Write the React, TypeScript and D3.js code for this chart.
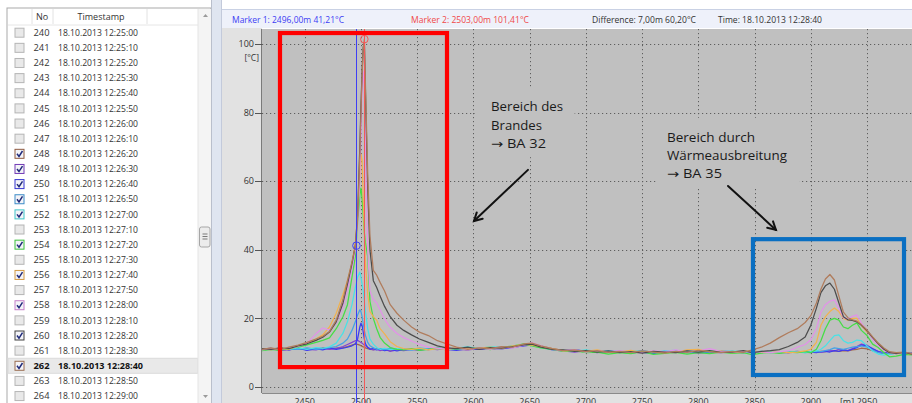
import React from 'react';
import * as d3 from 'd3';

// ---------- data ----------
const distances = [
  2412, 2420, 2428, 2436, 2444, 2452, 2460, 2466, 2472, 2478,
  2484, 2488, 2492, 2495, 2497, 2499, 2500, 2501, 2502, 2503,
  2504, 2506, 2508, 2511, 2514, 2517, 2521, 2526, 2532, 2538,
  2545, 2552, 2560, 2568, 2576, 2585, 2595, 2605, 2615, 2625,
  2635, 2645, 2652, 2660, 2670, 2680, 2690, 2700, 2710, 2720,
  2730, 2740, 2750, 2760, 2770, 2780, 2790, 2800, 2810, 2820,
  2830, 2840, 2848, 2856, 2864, 2872, 2880, 2888, 2895, 2900,
  2905, 2909, 2913, 2917, 2921, 2925, 2929, 2933, 2937, 2941,
  2945, 2950, 2955, 2960, 2965, 2970, 2976, 2983, 2990,
];

const s248 = [
  11.0, 11.1, 11.3, 10.9, 11.1, 11.2, 11.0, 11.4, 11.1, 11.3,
  11.5, 11.8, 12.2, 12.5, 12.4, 12.2, 12.0, 11.9, 11.7, 11.6,
  11.4, 11.2, 11.0, 10.9, 11.1, 10.8, 11.0, 10.7, 11.0, 10.8,
  11.1, 10.9, 11.2, 11.0, 11.2, 11.1, 10.9, 11.3, 11.1, 11.4,
  11.7, 12.3, 12.6, 11.9, 11.2, 10.7, 10.5, 10.6, 10.3, 10.2,
  10.4, 10.1, 10.2, 10.0, 10.3, 10.1, 10.4, 10.0, 10.3, 10.1,
  10.2, 10.1, 10.3, 10.2, 10.1, 10.3, 10.0, 10.2, 10.1, 10.3,
  10.2, 10.4, 10.3, 10.6, 10.5, 10.4, 10.6, 10.5, 10.8, 11.0,
  11.3, 11.1, 10.6, 10.1, 9.9, 9.8, 10.0, 9.8, 9.9,
];
const s249 = [
  11.0, 11.3, 10.6, 10.9, 11.2, 11.0, 10.8, 11.3, 11.0, 11.2,
  11.8, 12.4, 13.0, 13.5, 13.6, 13.2, 13.0, 12.8, 12.5, 12.2,
  12.0, 11.6, 11.2, 10.8, 11.0, 10.6, 11.0, 10.4, 10.8, 10.6,
  11.0, 10.7, 11.2, 10.9, 11.3, 11.0, 10.8, 11.2, 11.0, 11.3,
  11.5, 12.1, 12.4, 11.8, 10.8, 10.5, 10.2, 10.6, 10.0, 10.4,
  10.2, 9.9, 10.3, 10.0, 10.4, 10.1, 10.3, 9.9, 10.2, 10.0,
  10.2, 10.0, 10.3, 10.1, 10.3, 10.0, 10.2, 10.4, 10.2, 10.0,
  10.3, 10.1, 10.4, 10.6, 10.5, 11.0, 10.8, 10.6, 11.2, 11.8,
  12.5, 12.2, 11.0, 10.4, 10.0, 9.8, 10.0, 9.7, 9.9,
];
const s250 = [
  11.2, 10.9, 11.4, 10.8, 11.3, 10.7, 11.2, 10.8, 11.4, 11.0,
  11.3, 11.6, 12.0, 12.6, 14.0, 17.5, 18.6, 18.0, 16.0, 14.0,
  12.6, 11.5, 11.0, 11.3, 10.8, 11.2, 10.6, 11.0, 10.5, 11.0,
  10.8, 11.2, 10.9, 11.3, 11.0, 10.7, 11.2, 11.0, 11.4, 11.1,
  11.6, 12.0, 12.3, 11.6, 11.0, 10.6, 10.9, 10.4, 10.2, 10.6,
  10.0, 10.4, 10.1, 9.8, 10.3, 10.5, 10.0, 10.3, 10.0, 10.4,
  10.1, 10.3, 10.0, 10.2, 10.4, 10.1, 10.0, 10.3, 10.1, 10.2,
  10.0, 10.3, 10.4, 10.2, 10.6, 10.4, 10.8, 10.6, 11.0, 11.5,
  12.2, 12.0, 11.2, 10.3, 9.8, 10.0, 9.7, 10.1, 9.9,
];
const s251 = [
  10.9, 11.2, 10.8, 11.1, 11.0, 11.4, 11.0, 11.2, 11.5, 11.8,
  12.8, 14.0, 16.5, 19.0, 21.0, 22.5, 22.0, 20.5, 18.5, 16.5,
  15.0, 13.0, 12.0, 11.4, 11.0, 11.2, 10.9, 11.3, 11.0, 11.2,
  11.0, 11.3, 11.1, 11.0, 11.4, 11.0, 11.5, 11.2, 11.4, 11.6,
  11.8, 12.2, 12.4, 11.7, 11.1, 10.5, 10.8, 10.4, 10.6, 10.3,
  10.5, 10.2, 10.6, 10.1, 10.4, 10.2, 10.6, 10.3, 10.2, 10.5,
  10.3, 10.0, 10.2, 10.4, 10.0, 10.2, 10.1, 10.3, 10.0, 10.2,
  10.4, 10.3, 10.6, 10.9, 11.4, 11.2, 11.0, 11.3, 11.6, 11.8,
  12.0, 11.6, 10.8, 10.0, 9.8, 9.6, 9.9, 10.1, 9.7,
];
const s252 = [
  11.0, 10.8, 11.2, 11.0, 11.4, 11.0, 11.5, 11.3, 11.7, 12.8,
  15.7, 19.0, 24.0, 29.0, 32.0, 33.5, 32.0, 30.0, 28.0, 25.0,
  22.0, 17.0, 14.0, 12.5, 11.5, 11.0, 11.3, 10.9, 11.2, 11.0,
  10.8, 11.2, 11.0, 11.4, 10.9, 11.3, 11.7, 11.2, 11.8, 11.5,
  12.0, 12.5, 12.1, 11.5, 10.9, 10.7, 10.4, 10.8, 10.3, 10.6,
  10.2, 10.6, 10.3, 10.0, 10.5, 10.7, 10.2, 10.4, 10.6, 10.0,
  10.5, 10.2, 10.4, 10.0, 10.3, 10.1, 10.4, 10.2, 10.0, 10.3,
  10.5, 11.0, 12.0, 13.5, 15.0, 15.2, 13.5, 12.8, 13.0, 13.7,
  13.5, 12.0, 10.5, 9.6, 9.3, 9.6, 9.9, 10.0, 9.8,
];
const s254 = [
  10.6, 11.0, 10.7, 11.3, 11.6, 12.3, 13.0, 13.6, 14.3, 17.0,
  20.5, 24.0, 32.0, 38.0, 48.0, 56.0, 58.0, 55.0, 50.0, 45.0,
  42.0, 38.0, 25.0, 20.0, 17.0, 14.5, 12.8, 11.5, 11.0, 10.8,
  11.2, 10.7, 11.0, 11.4, 10.8, 11.2, 11.0, 11.5, 10.9, 11.6,
  11.9, 12.6, 12.0, 11.4, 11.0, 10.4, 10.6, 10.0, 10.2, 9.6,
  10.0, 9.7, 10.3, 9.5, 9.8, 10.1, 9.6, 10.0, 9.7, 10.2,
  9.8, 10.0, 9.4, 9.9, 10.1, 9.8, 10.2, 10.0, 10.3, 10.0,
  11.0, 13.5, 17.0, 19.5, 20.0, 19.5, 17.5, 17.0, 18.0, 18.7,
  16.5, 15.0, 12.5, 11.5, 10.0, 8.8, 9.0, 9.5, 9.4,
];
const s256 = [
  11.1, 10.8, 11.4, 11.0, 12.0, 12.8, 14.0, 15.2, 17.5, 21.5,
  27.0, 31.0, 36.0, 42.0, 50.0, 62.0, 68.0, 66.0, 55.0, 45.0,
  36.0, 27.0, 22.0, 20.5, 19.5, 17.0, 15.5, 13.2, 11.8, 11.2,
  11.0, 11.3, 10.8, 11.2, 11.0, 11.5, 11.1, 11.3, 11.6, 11.2,
  12.0, 12.4, 12.2, 11.8, 11.2, 10.5, 10.7, 10.4, 10.8, 10.2,
  10.3, 10.7, 10.1, 10.4, 10.0, 10.2, 10.8, 11.0, 10.3, 10.5,
  10.0, 10.3, 10.5, 10.2, 10.1, 10.4, 10.0, 10.2, 10.5, 11.0,
  13.0, 18.0, 20.5, 22.0, 23.0, 22.0, 20.0, 19.5, 20.0, 20.0,
  18.0, 16.0, 14.5, 12.5, 11.0, 10.0, 9.7, 9.9, 9.6,
];
const s258 = [
  10.8, 11.2, 11.0, 11.5, 11.8, 12.8, 15.5, 17.2, 16.6, 18.8,
  23.5, 28.5, 34.5, 40.0, 48.0, 62.0, 74.0, 86.0, 92.0, 88.0,
  68.0, 40.0, 28.0, 25.5, 24.5, 22.5, 19.8, 17.4, 15.6, 14.4,
  13.4, 12.4, 11.6, 11.3, 11.0, 11.3, 10.9, 11.4, 11.0, 11.6,
  11.4, 12.2, 12.9, 12.1, 11.0, 10.6, 10.9, 10.2, 10.5, 10.3,
  10.6, 10.2, 10.0, 10.5, 10.3, 10.8, 10.2, 10.5, 11.2, 10.4,
  10.2, 10.4, 10.1, 10.3, 10.0, 10.3, 10.5, 11.6, 12.4, 13.8,
  17.0, 21.8, 24.0, 25.0, 25.4, 23.0, 20.2, 19.8, 20.6, 21.0,
  18.6, 16.5, 14.0, 12.0, 10.8, 10.0, 9.8, 10.0, 9.7,
];
const s260 = [
  11.2, 11.0, 11.3, 11.2, 12.0, 12.6, 13.6, 14.5, 16.0, 19.0,
  24.5, 30.0, 36.0, 41.2, 50.0, 70.0, 82.0, 92.0, 99.0, 100.5,
  86.0, 58.0, 40.0, 31.0, 29.0, 26.5, 23.5, 20.5, 18.0, 16.5,
  15.2, 14.0, 13.0, 12.0, 11.4, 11.2, 11.6, 11.0, 11.5, 11.3,
  11.8, 12.3, 12.5, 11.6, 11.0, 10.8, 10.4, 10.6, 10.2, 10.5,
  10.1, 10.3, 9.9, 10.4, 10.2, 10.0, 10.5, 10.2, 10.6, 10.1,
  10.2, 10.6, 10.0, 10.4, 10.6, 10.9, 11.8, 13.0, 14.6, 18.0,
  23.0, 27.5, 29.5, 30.3, 28.5, 24.5, 20.5, 19.6, 19.4, 19.0,
  18.0, 16.4, 14.4, 12.6, 11.0, 10.0, 9.8, 10.1, 9.6,
];
const s262 = [
  11.0, 11.4, 10.9, 11.6, 12.2, 13.0, 14.0, 14.8, 16.2, 19.5,
  25.5, 31.0, 36.5, 41.0, 49.0, 68.0, 80.0, 91.0, 98.5, 101.4,
  88.0, 62.0, 44.0, 34.0, 32.6, 30.5, 28.0, 24.0, 21.5, 19.5,
  17.5, 16.0, 15.0, 13.5, 12.6, 11.6, 11.0, 11.4, 11.2, 11.8,
  11.6, 12.6, 12.8, 12.0, 11.2, 10.6, 10.8, 10.3, 10.6, 10.1,
  10.4, 10.0, 10.5, 10.2, 9.9, 10.4, 10.1, 10.7, 10.3, 10.0,
  10.4, 10.1, 10.8, 11.6, 12.8, 14.4, 15.8, 17.0, 18.8, 20.8,
  24.5, 28.5, 31.5, 32.8, 31.2, 26.5, 21.8, 20.2, 19.6, 19.2,
  18.2, 16.6, 14.6, 12.8, 11.4, 10.3, 10.0, 10.2, 9.8,
];

const seriesIds = [248, 249, 250, 251, 252, 254, 256, 258, 260, 262];
const seriesValues = [s248, s249, s250, s251, s252, s254, s256, s258, s260, s262];
const seriesColors = ['#a4684a', '#8444d2', '#3c3cf0', '#46a2e6', '#48e2e6', '#44de44', '#f2b24e', '#e292e8', '#4c4c4c', '#b07c5c'];

const rowNumbers = [240, 241, 242, 243, 244, 245, 246, 247, 248, 249, 250, 251, 252, 253, 254, 255, 256, 257, 258, 259, 260, 261, 262, 263, 264];
const rowTimes = [
  '18.10.2013 12:25:00', '18.10.2013 12:25:10', '18.10.2013 12:25:20', '18.10.2013 12:25:30',
  '18.10.2013 12:25:40', '18.10.2013 12:25:50', '18.10.2013 12:26:00', '18.10.2013 12:26:10',
  '18.10.2013 12:26:20', '18.10.2013 12:26:30', '18.10.2013 12:26:40', '18.10.2013 12:26:50',
  '18.10.2013 12:27:00', '18.10.2013 12:27:10', '18.10.2013 12:27:20', '18.10.2013 12:27:30',
  '18.10.2013 12:27:40', '18.10.2013 12:27:50', '18.10.2013 12:28:00', '18.10.2013 12:28:10',
  '18.10.2013 12:28:20', '18.10.2013 12:28:30', '18.10.2013 12:28:40', '18.10.2013 12:28:50',
  '18.10.2013 12:29:00',
];
const selectedRow = 262;

const xTicks = [2450, 2500, 2550, 2600, 2650, 2700, 2750, 2800, 2850, 2900, 2950];
const yTicks = [0, 20, 40, 60, 80, 100];

const marker1 = { x: 2496, y: 41.21, label: 'Marker 1: 2496,00m 41,21°C' };
const marker2 = { x: 2503, y: 101.41, label: 'Marker 2: 2503,00m 101,41°C' };
const diffLabel = 'Difference: 7,00m 60,20°C';
const timeLabel = 'Time: 18.10.2013 12:28:40';

const note1Lines = ['Bereich des', 'Brandes', '→ BA 32'];
const note1Widths = [72, 51, 55];
const note2Lines = ['Bereich durch', 'Wärmeausbreitung', '→ BA 35'];
const note2Widths = [88, 120, 55];

// ---------- component ----------
export default function App() {
  const x = d3.scaleLinear().domain([2412, 2990]).range([262, 912]);
  const y = d3.scaleLinear().domain([0, 100]).range([387, 44]);
  const plot = { l: 262, r: 912, t: 29, b: 393 };
  const font = "'Open Sans', 'Noto Sans', 'DejaVu Sans', sans-serif";

  const line = d3
    .line<number>()
    .x((_, i) => x(distances[i]))
    .y((d) => y(d));

  const rowY = (i: number) => 32.7 + 15.14 * i;

  const arrow = (x0: number, y0: number, x1: number, y1: number, key: string) => {
    const a = Math.atan2(y1 - y0, x1 - x0);
    const L = 9;
    const s = 0.5;
    const h1 = [x1 - L * Math.cos(a - s), y1 - L * Math.sin(a - s)];
    const h2 = [x1 - L * Math.cos(a + s), y1 - L * Math.sin(a + s)];
    return (
      <g key={key} stroke="#111" strokeWidth={2} fill="none" strokeLinecap="round">
        <line x1={x0} y1={y0} x2={x1} y2={y1} />
        <polyline points={`${h1[0]},${h1[1]} ${x1},${y1} ${h2[0]},${h2[1]}`} />
      </g>
    );
  };

  const redBox = { x0: 2428, x1: 2576.5, y0: 5.8, y1: 103.2 };
  const blueBox = { x0: 2848.6, x1: 2982.9, y0: 3.5, y1: 43.1 };
  const note1Box = { x0: 2601, x1: 2690, y0: 67, y1: 87.5 };
  const note2Box = { x0: 2763, x1: 2890, y0: 58.3, y1: 78.5 };

  return (
    <svg width={912} height={403} style={{ position: 'fixed', left: 0, top: 0 }} fontFamily={font}>
      <rect x={0} y={0} width={912} height={403} fill="#ffffff" />

      {/* ---------- left list panel ---------- */}
      <rect x={7} y={8} width={204} height={400} fill="#ffffff" stroke="#a9a9a9" />
      <line x1={8} y1={25} x2={198} y2={25} stroke="#e6e6e6" />
      {[32, 53, 147].map((cx) => (
        <line key={cx} x1={cx} y1={9} x2={cx} y2={24} stroke="#e2e2e2" />
      ))}
      <text x={42} y={19.5} fontSize={9} fill="#333" textAnchor="middle">No</text>
      <text x={101} y={19.5} fontSize={9} fill="#333" textAnchor="middle">Timestamp</text>

      {rowNumbers.map((n, i) => {
        const cy = rowY(i);
        const si = seriesIds.indexOf(n);
        const checked = si >= 0;
        const sel = n === selectedRow;
        const c = checked ? d3.color(seriesColors[si])!.darker(0.4).formatHex() : '#b5b5b5';
        return (
          <g key={n}>
            {sel && <rect x={8} y={cy - 7.5} width={190} height={15} fill="#e9e9e9" stroke="#dadada" />}
            <rect x={15} y={cy - 4.5} width={9} height={9} fill={checked ? '#f4f4f8' : '#e9e9e9'} stroke={c} strokeWidth={1} />
            {checked && (
              <path d={`M${17},${cy} L${19},${cy + 2.6} L${22.5},${cy - 2.8}`} stroke="#1f2a7a" strokeWidth={1.5} fill="none" />
            )}
            <text x={33.5} y={cy + 3.2} fontSize={9.3} fill={sel ? '#111' : '#333'} fontWeight={sel ? 700 : 400} textLength={16} lengthAdjust="spacingAndGlyphs">{n}</text>
            <text x={58} y={cy + 3.2} fontSize={9.3} fill={sel ? '#111' : '#333'} fontWeight={sel ? 700 : 400} textLength={sel ? 85 : 80} lengthAdjust="spacingAndGlyphs">{rowTimes[i]}</text>
          </g>
        );
      })}

      {/* scrollbar */}
      <rect x={198} y={9} width={13} height={394} fill="#f4f4f4" />
      <line x1={198} y1={9} x2={198} y2={403} stroke="#e4e4e4" />
      <path d="M203,17 L205.5,14 L208,17 Z" fill="#9a9a9a" />
      <path d="M203,395 L205.5,398 L208,395 Z" fill="#9a9a9a" />
      <rect x={199.5} y={227} width={10.5} height={20} rx={2} fill="#ececec" stroke="#a6a6a6" />
      {[234, 236.5, 239].map((gy) => (
        <line key={gy} x1={202.5} y1={gy} x2={207.5} y2={gy} stroke="#7a7a7a" />
      ))}

      {/* splitter */}
      <rect x={211} y={0} width={11} height={403} fill="#dfe5f0" />
      <line x1={211.5} y1={0} x2={211.5} y2={403} stroke="#b9bfcc" />
      <line x1={221.5} y1={0} x2={221.5} y2={403} stroke="#c3cadb" />

      {/* ---------- chart panel ---------- */}
      <rect x={222} y={9} width={690} height={19} fill="#eef1fa" />
      <line x1={222} y1={9.5} x2={912} y2={9.5} stroke="#c9d1e4" />
      <rect x={222} y={28} width={40} height={375} fill="#e2e2e2" />
      <rect x={262} y={393} width={650} height={10} fill="#e2e2e2" />

      <text x={232} y={22.5} fontSize={9} fill="#3c3cf4" textLength={112} lengthAdjust="spacingAndGlyphs">{marker1.label}</text>
      <text x={411} y={22.5} fontSize={9} fill="#f04848" textLength={118} lengthAdjust="spacingAndGlyphs">{marker2.label}</text>
      <text x={592} y={22.5} fontSize={9} fill="#333" textLength={104} lengthAdjust="spacingAndGlyphs">{diffLabel}</text>
      <text x={718} y={22.5} fontSize={9} fill="#333" textLength={104} lengthAdjust="spacingAndGlyphs">{timeLabel}</text>

      <defs>
        <clipPath id="plotClip">
          <rect x={plot.l} y={plot.t} width={plot.r - plot.l} height={plot.b - plot.t} />
        </clipPath>
      </defs>

      <rect x={plot.l} y={plot.t} width={plot.r - plot.l} height={plot.b - plot.t} fill="#c0c0c0" />

      {/* grid */}
      <g stroke="#5e5e5e" strokeWidth={1} strokeDasharray="1.2,2.8">
        {xTicks.map((t) => (
          <line key={`gx${t}`} x1={Math.round(x(t)) + 0.5} y1={plot.t} x2={Math.round(x(t)) + 0.5} y2={plot.b} />
        ))}
        {yTicks.map((t) => (
          <line key={`gy${t}`} x1={plot.l} y1={Math.round(y(t)) + 0.5} x2={plot.r} y2={Math.round(y(t)) + 0.5} />
        ))}
      </g>

      <line x1={plot.l - 0.5} y1={plot.t} x2={plot.l - 0.5} y2={plot.b} stroke="#7a7a7a" />
      <line x1={plot.l} y1={plot.b + 0.5} x2={plot.r} y2={plot.b + 0.5} stroke="#8a8a8a" />

      {/* y axis */}
      {yTicks.map((t) => (
        <g key={`yt${t}`}>
          <line x1={255} y1={Math.round(y(t)) + 0.5} x2={262} y2={Math.round(y(t)) + 0.5} stroke="#555" />
          <text x={254} y={y(t) + 3.2} fontSize={9} fill="#333" textAnchor="end">{t}</text>
        </g>
      ))}
      <text x={259} y={61} fontSize={8.5} fill="#333" textAnchor="end">[°C]</text>

      {/* x axis labels (partially cut off, as in the screenshot) */}
      {xTicks.map((t) => (
        <text key={`xt${t}`} x={x(t)} y={405} fontSize={9} fill="#333" textAnchor="middle">{t}</text>
      ))}
      <text x={847} y={405} fontSize={9} fill="#333" textAnchor="middle">[m]</text>

      {/* text boxes hide the grid */}
      <rect x={x(note1Box.x0)} y={y(note1Box.y1)} width={x(note1Box.x1) - x(note1Box.x0)} height={y(note1Box.y0) - y(note1Box.y1)} fill="#c0c0c0" />
      <rect x={x(note2Box.x0)} y={y(note2Box.y1)} width={x(note2Box.x1) - x(note2Box.x0)} height={y(note2Box.y0) - y(note2Box.y1)} fill="#c0c0c0" />

      {/* series */}
      <g clipPath="url(#plotClip)" fill="none" strokeWidth={1.25} strokeLinejoin="round">
        {seriesValues.map((vals, i) => (
          <path key={seriesIds[i]} d={line(vals) ?? ''} stroke={seriesColors[i]} />
        ))}
      </g>

      {/* markers */}
      <line x1={Math.round(x(marker1.x)) + 0.5} y1={plot.t} x2={Math.round(x(marker1.x)) + 0.5} y2={403} stroke="#3f3ff4" strokeWidth={1} />
      <line x1={Math.round(x(marker2.x)) + 0.5} y1={plot.t} x2={Math.round(x(marker2.x)) + 0.5} y2={403} stroke="#f25a5a" strokeWidth={1} />
      <circle cx={x(marker1.x)} cy={y(marker1.y)} r={3.8} fill="none" stroke="#3f3ff4" />
      <circle cx={x(marker2.x)} cy={y(marker2.y)} r={3.8} fill="none" stroke="#f25a5a" />

      {/* annotation boxes */}
      <rect x={x(redBox.x0)} y={y(redBox.y1)} width={x(redBox.x1) - x(redBox.x0)} height={y(redBox.y0) - y(redBox.y1)} fill="none" stroke="#ff0000" strokeWidth={4.2} />
      <rect x={x(blueBox.x0)} y={y(blueBox.y1)} width={x(blueBox.x1) - x(blueBox.x0)} height={y(blueBox.y0) - y(blueBox.y1)} fill="none" stroke="#0a6fc2" strokeWidth={4.2} />

      {/* annotation texts */}
      {note1Lines.map((s, i) => (
        <text key={`n1${i}`} x={491} y={110.8 + 18.7 * i} fontSize={12.5} fill="#1a1a1a" textLength={note1Widths[i]} lengthAdjust="spacingAndGlyphs">{s}</text>
      ))}
      {note2Lines.map((s, i) => (
        <text key={`n2${i}`} x={667} y={141.7 + 18.3 * i} fontSize={12.5} fill="#1a1a1a" textLength={note2Widths[i]} lengthAdjust="spacingAndGlyphs">{s}</text>
      ))}
      {arrow(x(2648.5), y(63.3), x(2600.5), y(48.4), 'a1')}
      {arrow(x(2826.4), y(58.6), x(2869), y(45.8), 'a2')}
    </svg>
  );
}
